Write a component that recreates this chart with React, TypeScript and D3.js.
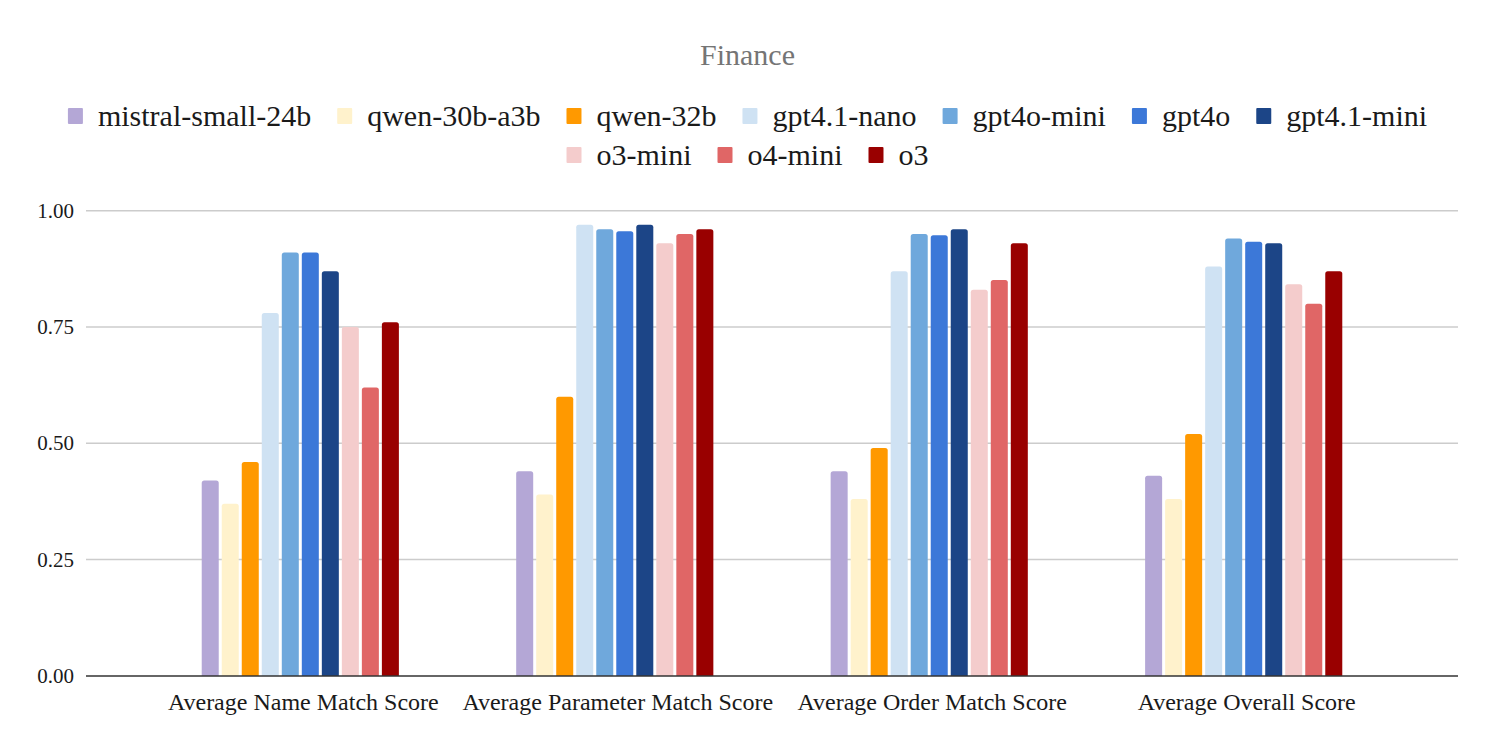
import React, { useMemo } from "react";
import * as d3 from "d3";

const categories = [
  "Average Name Match Score",
  "Average Parameter Match Score",
  "Average Order Match Score",
  "Average Overall Score",
];

const seriesNames = [
  "mistral-small-24b",
  "qwen-30b-a3b",
  "qwen-32b",
  "gpt4.1-nano",
  "gpt4o-mini",
  "gpt4o",
  "gpt4.1-mini",
  "o3-mini",
  "o4-mini",
  "o3",
];

const seriesColors = [
  "#b4a7d6",
  "#fff2cc",
  "#ff9900",
  "#cfe2f3",
  "#6fa8dc",
  "#3c78d8",
  "#1c4587",
  "#f4cccc",
  "#e06666",
  "#990000",
];

const mistralSmall24b = [0.42, 0.44, 0.44, 0.43];
const qwen30bA3b = [0.37, 0.39, 0.38, 0.38];
const qwen32b = [0.46, 0.6, 0.49, 0.52];
const gpt41Nano = [0.78, 0.97, 0.87, 0.88];
const gpt4oMini = [0.91, 0.96, 0.95, 0.94];
const gpt4o = [0.91, 0.956, 0.947, 0.933];
const gpt41Mini = [0.87, 0.97, 0.96, 0.93];
const o3Mini = [0.75, 0.93, 0.83, 0.842];
const o4Mini = [0.62, 0.95, 0.851, 0.8];
const o3 = [0.76, 0.96, 0.93, 0.87];

const seriesValues = [
  mistralSmall24b,
  qwen30bA3b,
  qwen32b,
  gpt41Nano,
  gpt4oMini,
  gpt4o,
  gpt41Mini,
  o3Mini,
  o4Mini,
  o3,
];

const yTicks = [0, 0.25, 0.5, 0.75, 1];
const title = "Finance";

const W = 1495;
const H = 753;
const FONT = "Liberation Serif, Times New Roman, serif";

function measure(text: string, size: number): number {
  const c = document.createElement("canvas");
  const ctx = c.getContext("2d");
  if (!ctx) return text.length * size * 0.5;
  ctx.font = `${size}px "Liberation Serif", serif`;
  return ctx.measureText(text).width;
}

function topRoundedBar(x: number, y: number, w: number, h: number, r: number) {
  const rr = Math.min(r, h, w / 2);
  const p = d3.path();
  p.moveTo(x, y + h);
  p.lineTo(x, y + rr);
  p.quadraticCurveTo(x, y, x + rr, y);
  p.lineTo(x + w - rr, y);
  p.quadraticCurveTo(x + w, y, x + w, y + rr);
  p.lineTo(x + w, y + h);
  p.closePath();
  return p.toString();
}

const txt: React.CSSProperties = { fontFamily: FONT };

export default function App() {
  const x0 = d3
    .scaleBand<string>()
    .domain(categories)
    .range([86, 1458])
    .paddingInner(0.373)
    .paddingOuter(0.368);
  const x1 = d3
    .scaleBand<string>()
    .domain(seriesNames)
    .range([0, x0.bandwidth()])
    .paddingInner(0.15)
    .paddingOuter(0);
  const y = d3.scaleLinear().domain([0, 1]).range([675.9, 210.7]);
  const fmt = d3.format(".2f");

  const legendRows = useMemo(() => {
    const rows = [seriesNames.slice(0, 7), seriesNames.slice(7)];
    const marker = 15;
    const gapText = 15;
    const gapItem = 26;
    return rows.map((row) => {
      const widths = row.map((n) => marker + gapText + measure(n, 30));
      const total = d3.sum(widths) + gapItem * (row.length - 1);
      let cx = W / 2 - total / 2;
      return row.map((n, i) => {
        const item = { name: n, x: cx, idx: seriesNames.indexOf(n) };
        cx += widths[i] + gapItem;
        return item;
      });
    });
  }, []);

  const legendY = [116, 155];

  return (
    <svg
      width={W}
      height={H}
      style={{ position: "absolute", left: 0, top: 0, background: "#fff" }}
    >
      <rect x={0} y={0} width={W} height={H} fill="#fff" />
      <text x={W / 2} y={65} textAnchor="middle" fontSize={30} fill="#757575" style={txt}>
        {title}
      </text>

      {legendRows.map((row, ri) =>
        row.map((it) => (
          <g key={it.name} transform={`translate(${it.x},${legendY[ri]})`}>
            <rect x={0} y={-8} width={15} height={16} fill={seriesColors[it.idx]} rx={1} />
            <text x={30} y={10} fontSize={30} fill="#1a1a1a" style={txt}>
              {it.name}
            </text>
          </g>
        ))
      )}

      {yTicks.map((t) => (
        <g key={t}>
          {t !== 0 && (
            <line x1={86} x2={1458} y1={y(t)} y2={y(t)} stroke="#cccccc" strokeWidth={1.5} />
          )}
          <text x={74} y={y(t) + 7} textAnchor="end" fontSize={21} fill="#1a1a1a" style={txt}>
            {fmt(t)}
          </text>
        </g>
      ))}

      {categories.map((c, ci) => (
        <g key={c} transform={`translate(${x0(c)},0)`}>
          {seriesNames.map((s, si) => {
            const v = seriesValues[si][ci];
            const bx = x1(s) as number;
            const by = y(v);
            return (
              <path
                key={s}
                d={topRoundedBar(bx, by, x1.bandwidth(), y(0) - by, 2.5)}
                fill={seriesColors[si]}
              />
            );
          })}
        </g>
      ))}

      <line x1={86} x2={1458} y1={y(0)} y2={y(0)} stroke="#333" strokeWidth={1.5} />

      {categories.map((c) => (
        <text
          key={c}
          x={(x0(c) as number) + x0.bandwidth() / 2 + 3}
          y={710}
          textAnchor="middle"
          fontSize={24}
          fill="#1a1a1a"
          style={txt}
        >
          {c}
        </text>
      ))}
    </svg>
  );
}
